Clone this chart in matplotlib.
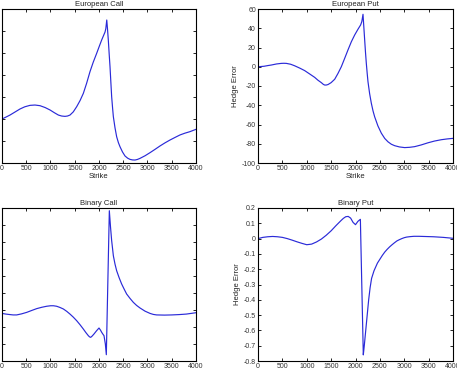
import matplotlib
matplotlib.use('Agg')
import matplotlib.pyplot as plt

plt.rcParams['font.family'] = ['Liberation Sans', 'DejaVu Sans']

# European call hedge error vs strike
ec_strike = [0, 80, 165, 270, 371, 470, 577, 680, 784, 890, 990, 1080, 1162, 1230, 1299, 1350, 1402,
             1470, 1540, 1610, 1677, 1745, 1814, 1880, 1952, 2005, 2055, 2095, 2124, 2140, 2160, 2175,
             2192, 2210, 2227, 2245, 2261, 2280, 2296, 2330, 2364, 2400, 2433, 2485, 2536, 2590, 2639,
             2690, 2742, 2790, 2845, 2950, 3052, 3155, 3258, 3360, 3464, 3570, 3670, 3770, 3876, 3940,
             4000]
ec_err = [-20.0, -18.3, -16.4, -13.6, -10.9, -8.9, -7.6, -7.3, -7.9, -9.6, -11.8, -14.3, -16.4, -17.3,
          -17.6, -17.3, -16.4, -13.5, -8.8, -3.2, 3.3, 12.5, 23.0, 31.5, 39.7, 46.0, 51.8, 56.0, 59.0,
          62.0, 70.0, 62.0, 51.8, 39.0, 27.6, 13.0, 0.3, -10.0, -17.9, -28.0, -36.1, -41.5, -45.2, -50.0,
          -53.6, -55.6, -56.7, -57.2, -57.3, -56.8, -55.8, -53.4, -50.6, -47.6, -44.5, -41.7, -39.1,
          -36.7, -34.5, -32.9, -31.5, -30.4, -29.4]

# European put hedge error vs strike
ep_strike = [0, 123, 200, 274, 380, 479, 530, 581, 670, 752, 860, 957, 1060, 1162, 1230, 1299, 1340,
             1368, 1400, 1436, 1500, 1573, 1640, 1709, 1780, 1846, 1915, 1983, 2051, 2106, 2130, 2154,
             2170, 2188, 2205, 2222, 2240, 2256, 2290, 2325, 2360, 2393, 2460, 2530, 2600, 2667, 2735,
             2803, 2900, 3009, 3110, 3214, 3350, 3487, 3620, 3761, 3880, 4000]
ep_err = [0.0, 0.5, 1.2, 1.8, 2.9, 3.5, 3.6, 3.5, 2.6, 1.0, -1.5, -4.0, -7.5, -11.0, -14.0, -16.5,
          -18.3, -19.0, -19.0, -18.5, -16.5, -13.0, -7.0, 0.0, 9.0, 17.5, 26.0, 33.0, 39.0, 43.5, 47.0,
          54.5, 42.0, 28.0, 15.0, 3.5, -7.0, -15.5, -28.0, -38.0, -46.0, -52.0, -61.5, -69.0, -74.5,
          -78.0, -80.5, -82.0, -83.3, -84.0, -83.7, -83.0, -81.2, -79.0, -77.2, -75.8, -75.0, -74.4]

# Binary call hedge error vs strike
bc_strike = [0, 80, 165, 230, 302, 400, 509, 610, 715, 820, 921, 1003, 1060, 1127, 1195, 1265, 1335,
             1402, 1470, 1540, 1610, 1677, 1730, 1780, 1805, 1828, 1860, 1897, 1950, 2000, 2030, 2055,
             2080, 2103, 2131, 2151, 2213, 2237, 2261, 2280, 2296, 2330, 2364, 2415, 2467, 2520, 2570,
             2640, 2708, 2775, 2845, 2950, 3052, 3120, 3189, 3350, 3500, 3650, 3800, 3900, 4000]
bc_err = [-0.020, -0.024, -0.027, -0.029, -0.029, -0.023, -0.014, -0.003, 0.008, 0.016, 0.022, 0.025,
          0.025, 0.022, 0.015, 0.006, -0.008, -0.024, -0.042, -0.063, -0.087, -0.112, -0.133, -0.151,
          -0.158, -0.161, -0.153, -0.141, -0.122, -0.106, -0.118, -0.131, -0.142, -0.151, -0.200,
          -0.263, 0.584, 0.490, 0.408, 0.360, 0.319, 0.270, 0.231, 0.190, 0.153, 0.122, 0.094, 0.068,
          0.045, 0.027, 0.012, -0.007, -0.020, -0.026, -0.029, -0.030, -0.029, -0.027, -0.024, -0.020,
          -0.016]

# Binary put hedge error vs strike
bp_strike = [0, 100, 200, 300, 400, 500, 600, 700, 800, 900, 1000, 1100, 1200, 1300, 1400, 1500, 1600,
             1700, 1750, 1800, 1850, 1900, 1950, 2000, 2050, 2100, 2160, 2180, 2210, 2240, 2270, 2300,
             2330, 2380, 2450, 2500, 2550, 2600, 2650, 2700, 2750, 2800, 2850, 2900, 2950, 3000, 3050,
             3125, 3200, 3300, 3400, 3500, 3600, 3700, 3800, 3900, 4000]
bp_err = [0.0, 0.008, 0.012, 0.014, 0.012, 0.008, 0.0, -0.010, -0.021, -0.031, -0.040, -0.036, -0.022,
          -0.003, 0.022, 0.051, 0.085, 0.117, 0.132, 0.143, 0.145, 0.134, 0.106, 0.091, 0.113, 0.126,
          -0.76, -0.70, -0.60, -0.50, -0.40, -0.32, -0.26, -0.21, -0.16, -0.135, -0.11, -0.088, -0.07,
          -0.054, -0.04, -0.027, -0.015, -0.007, 0.0, 0.006, 0.010, 0.013, 0.015, 0.015, 0.014, 0.013,
          0.012, 0.010, 0.008, 0.005, 0.002]

x_ticks = [0, 500, 1000, 1500, 2000, 2500, 3000, 3500, 4000]

fig = plt.figure(figsize=(4.57, 3.68), dpi=100)
W, H = 457.0, 368.0


def make_ax(x0, y0, x1, y1):
    return fig.add_axes([x0 / W, 1 - y1 / H, (x1 - x0) / W, (y1 - y0) / H])


ax_ec = make_ax(2, 9, 196, 163)
ax_ep = make_ax(258, 9, 453, 163)
ax_bc = make_ax(2, 208, 196, 361)
ax_bp = make_ax(258, 208, 453, 361)

panels = [
    (ax_ec, ec_strike, ec_err, 'European Call', (-60, 80), list(range(-60, 81, 20)), True, False),
    (ax_ep, ep_strike, ep_err, 'European Put', (-100, 60), list(range(-100, 61, 20)), True, True),
    (ax_bc, bc_strike, bc_err, 'Binary Call', (-0.3, 0.6), [round(-0.3 + 0.1 * i, 1) for i in range(10)], False, False),
    (ax_bp, bp_strike, bp_err, 'Binary Put', (-0.8, 0.2), [round(-0.8 + 0.1 * i, 1) for i in range(11)], False, True),
]

for ax, xs, ys, title, ylim, yticks, xlab, ylab in panels:
    ax.plot(xs, ys, color='#2a2ad8', lw=0.85)
    ax.set_xlim(0, 4000)
    ax.set_ylim(*ylim)
    ax.set_xticks(x_ticks)
    ax.set_yticks(yticks)
    ax.set_yticklabels([('%g' % t) if t != 0 else '0' for t in yticks])
    ax.tick_params(direction='in', length=2, width=0.6, labelsize=5, pad=1.5,
                   top=True, right=True, colors='black', labelcolor='#333333')
    for s in ax.spines.values():
        s.set_linewidth(0.8)
    ax.set_title(title, fontsize=5.5, pad=2, color='#222222')
    if xlab:
        ax.set_xlabel('Strike', fontsize=5.5, labelpad=1, color='#222222')
    if ylab:
        ax.set_ylabel('Hedge Error', fontsize=5.5, labelpad=2, color='#222222')

fig.savefig('out.png', dpi=100)
